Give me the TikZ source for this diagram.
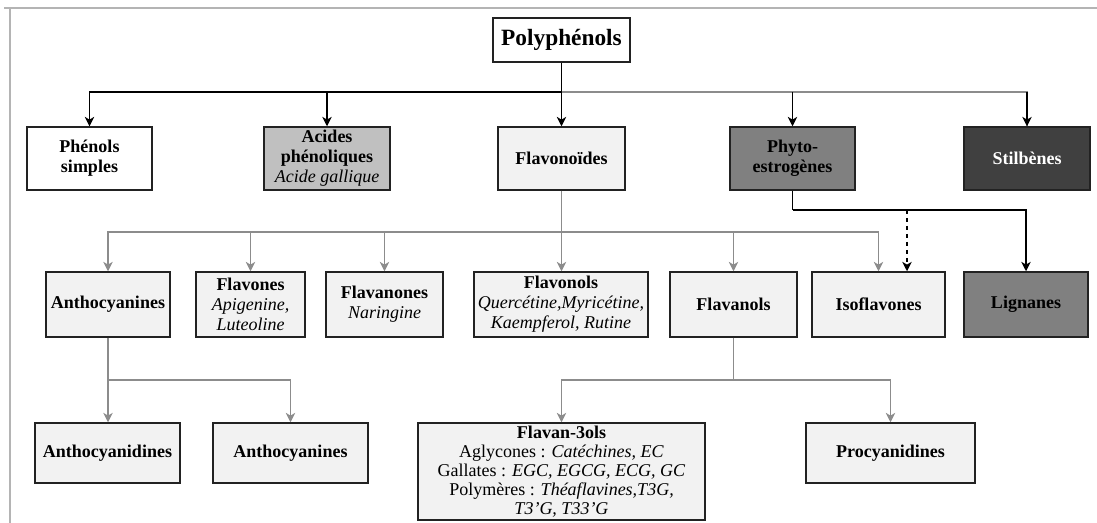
\documentclass[tikz,border=0pt]{standalone}
\usepackage{fontspec}
\setmainfont{Liberation Serif}
\usetikzlibrary{arrows.meta}
\definecolor{boxline}{HTML}{222222}
\definecolor{lightfill}{HTML}{F2F2F2}
\definecolor{midfill}{HTML}{C0C0C0}
\definecolor{darkfill}{HTML}{808080}
\definecolor{vdarkfill}{HTML}{404040}
\definecolor{conngray}{HTML}{8C8C8C}
\definecolor{framegray}{HTML}{B4B4B4}
\begin{document}
\begin{tikzpicture}[x=0.75pt,y=-0.75pt,
  bx/.style={draw=boxline, line width=1.1pt, align=center, inner sep=1pt,
    font=\fontsize{13.5}{15}\selectfont},
  tipk/.style={-{Stealth[length=7pt,width=7pt,inset=2pt]}},
  blk/.style={draw=black, line width=1.2pt},
  gry/.style={draw=conngray, line width=1.2pt},
  dsh/.style={draw=black, line width=1.2pt, dashed},
]
\useasboundingbox (0,0) rectangle (1097,523);
% frame
\draw[framegray, line width=1.5pt] (4,8) -- (1097,8);
\draw[framegray, line width=1.5pt] (10,8) -- (10,523);

% level 0
\node[bx, fill=white, minimum width=137*0.75pt, minimum height=44*0.75pt,
  font=\fontsize{17.5}{20}\selectfont\bfseries] (poly) at (561.5,40) {Polyphénols};

% level 1
\node[bx, fill=white, minimum width=125*0.75pt, minimum height=63*0.75pt] (phen) at (89.5,158.5)
  {\textbf{Phénols}\\\textbf{simples}};
\node[bx, fill=midfill, minimum width=126*0.75pt, minimum height=63*0.75pt] (acid) at (327,158.5)
  {\textbf{Acides}\\\textbf{phénoliques}\\\textit{Acide gallique}};
\node[bx, fill=lightfill, minimum width=127*0.75pt, minimum height=63*0.75pt] (flavo) at (561.5,158.5)
  {\textbf{Flavonoïdes}};
\node[bx, fill=darkfill, minimum width=125*0.75pt, minimum height=63*0.75pt] (phyto) at (792.5,158.5)
  {\textbf{Phyto-}\\\textbf{estrogènes}};
\node[bx, fill=vdarkfill, text=white, minimum width=126*0.75pt, minimum height=63*0.75pt] (stil) at (1027,158.5)
  {\textbf{Stilbènes}};

% level 2
\node[bx, fill=lightfill, minimum width=124*0.75pt, minimum height=65*0.75pt] (antho) at (108,304.5)
  {\textbf{Anthocyanines}};
\node[bx, fill=lightfill, minimum width=109*0.75pt, minimum height=65*0.75pt] (flavones) at (250.5,304.5)
  {\textbf{Flavones}\\\textit{Apigenine,}\\\textit{Luteoline}};
\node[bx, fill=lightfill, minimum width=117*0.75pt, minimum height=65*0.75pt] (flavanones) at (384.5,304.5)
  {\textbf{Flavanones}\\\textit{Naringine}};
\node[bx, fill=lightfill, minimum width=174*0.75pt, minimum height=65*0.75pt] (flavonols) at (561,304.5)
  {\textbf{Flavonols}\\\textit{Quercétine,Myricétine,}\\\textit{Kaempferol, Rutine}};
\node[bx, fill=lightfill, minimum width=127*0.75pt, minimum height=65*0.75pt] (flavanols) at (733.5,304.5)
  {\textbf{Flavanols}};
\node[bx, fill=lightfill, minimum width=133*0.75pt, minimum height=65*0.75pt] (iso) at (878.5,304.5)
  {\textbf{Isoflavones}};
\node[bx, fill=darkfill, minimum width=124*0.75pt, minimum height=65*0.75pt] (lign) at (1026,304.5)
  {\textbf{Lignanes}};

% level 3
\node[bx, fill=lightfill, minimum width=145*0.75pt, minimum height=60*0.75pt] (anthd) at (107.5,453)
  {\textbf{Anthocyanidines}};
\node[bx, fill=lightfill, minimum width=155*0.75pt, minimum height=60*0.75pt] (antho2) at (290.5,453)
  {\textbf{Anthocyanines}};
\node[bx, fill=lightfill, minimum width=287*0.75pt, minimum height=97*0.75pt,
  font=\fontsize{13.5}{14.3}\selectfont] (flavan) at (561.5,471.5)
  {\textbf{Flavan-3ols}\\Aglycones : \textit{Catéchines, EC}\\Gallates : \textit{EGC, EGCG, ECG, GC}\\Polymères : \textit{Théaflavines,T3G,}\\\textit{T3’G, T33’G}};
\node[bx, fill=lightfill, minimum width=169*0.75pt, minimum height=60*0.75pt] (procy) at (890.5,453)
  {\textbf{Procyanidines}};

% connectors level 0 -> 1
\coordinate (b0) at (561.5,92);
\draw[blk] (poly.south) -- (b0);
\draw[gry] (b0) -| (stil.north);
\draw[blk] (b0) -| (phen.north);
\draw[blk, tipk] (b0 -| phen.north) -- (phen.north);
\draw[blk, tipk] (b0 -| acid.north) -- (acid.north);
\draw[blk, tipk] (b0) -- (flavo.north);
\draw[blk, tipk] (b0 -| phyto.north) -- (phyto.north);
\draw[blk, tipk] (b0 -| stil.north) -- (stil.north);

% Flavonoides -> level 2
\coordinate (b1) at (561.5,232);
\draw[gry] (flavo.south) -- (b1);
\draw[gry, tipk] (b1) -| (antho.north);
\draw[gry, tipk] (b1) -| (flavones.north);
\draw[gry, tipk] (b1) -| (flavanones.north);
\draw[gry, tipk] (b1) -- (b1 |- flavonols.north);
\draw[gry, tipk] (b1) -| (flavanols.north);
\draw[gry, tipk] (b1) -| (iso.north);

% Phyto-estrogenes
\coordinate (b2) at (792.5,210);
\coordinate (dsh0) at (907,210);
\draw[blk] (phyto.south) -- (b2);
\draw[blk, tipk] (b2) -| (lign.north);
\draw[dsh, tipk] (dsh0) -- (dsh0 |- iso.north);

% Anthocyanines -> level 3
\coordinate (b3) at (108,380);
\draw[gry, tipk] (antho.south) -- (b3 |- anthd.north);
\draw[gry, tipk] (b3) -| (antho2.north);

% Flavanols -> level 3
\coordinate (b4) at (733.5,380);
\draw[gry] (flavanols.south) -- (b4);
\draw[gry, tipk] (b4) -| (flavan.north);
\draw[gry, tipk] (b4) -| (procy.north);
\end{tikzpicture}
\end{document}
